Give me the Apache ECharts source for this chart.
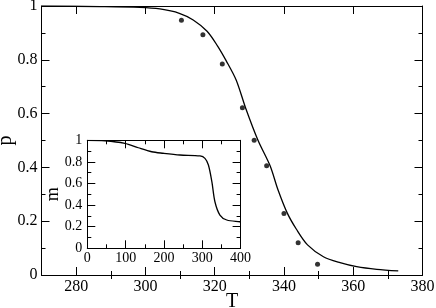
<!DOCTYPE html>
<html><head><meta charset="utf-8">
<script src="https://cdn.jsdelivr.net/npm/echarts@6/dist/echarts.min.js"></script>
<style>html,body{margin:0;padding:0;background:#fff}#c{width:436px;height:308px}</style>
</head><body><div id="c"></div>
<script>
// Main plot: fitted curve p(T)
const curveT = [270, 286.9, 298.4, 304.2, 309.8, 313.8, 317.8, 320.8, 323.3, 326.2, 328.9, 332.5, 336.0, 338.3, 341.0, 343.6, 346.8, 351.4, 356.2, 361.0, 366.8, 373.0];
const curveP = [1.0, 0.998, 0.995, 0.989, 0.973, 0.948, 0.906, 0.852, 0.797, 0.725, 0.622, 0.501, 0.406, 0.316, 0.229, 0.17, 0.112, 0.068, 0.046, 0.031, 0.021, 0.015];
// Main plot: measured points
const dotT = [310.4, 316.6, 322.2, 328.0, 331.4, 335.0, 340.0, 344.1, 349.7];
const dotP = [0.947, 0.893, 0.784, 0.622, 0.501, 0.406, 0.229, 0.12, 0.04];
// Inset: m(T)
const insetT = [0, 46, 98, 133, 168, 198, 242, 294, 307, 316, 325, 333, 346, 364, 398, 400];
const insetM = [1.0, 0.996, 0.972, 0.931, 0.894, 0.880, 0.864, 0.855, 0.833, 0.771, 0.617, 0.431, 0.308, 0.262, 0.246, 0.245];
// Tick values
const mainXMajor = [280, 300, 320, 340, 360, 380];
const mainXMinor = [290, 310, 330, 350, 370];

const FONT = 'Liberation Serif';
const pair = (a, b) => a.map((v, i) => [v, b[i]]);

function xAx(grid, pos, opts) {
  return Object.assign({
    type: 'value', gridIndex: grid, position: pos,
    axisLine: {show: true, onZero: false, lineStyle: {color: '#000', width: 1}},
    splitLine: {show: false},
    axisTick: {show: true, inside: true, length: 8, lineStyle: {color: '#000'}},
    axisLabel: {show: false}
  }, opts);
}

const xAxes = [
  xAx(0, 'bottom', {min: 270, max: 380, interval: 10,
    axisTick: {show: true, inside: true, length: 8, customValues: mainXMajor, lineStyle: {color: '#000'}},
    axisLabel: {show: true, customValues: mainXMajor, fontFamily: FONT, fontSize: 16, color: '#000', margin: 4},
    name: 'T', nameLocation: 'middle', nameGap: 17, nameMoveOverlap: false,
    nameTextStyle: {fontFamily: FONT, fontSize: 20, color: '#000'}}),
  xAx(0, 'bottom', {min: 270, max: 380, interval: 10, axisLine: {show: false},
    axisTick: {show: true, inside: true, length: 4, customValues: mainXMinor, lineStyle: {color: '#000'}}}),
  xAx(0, 'top', {min: 270, max: 380, interval: 10,
    axisTick: {show: true, inside: true, length: 8, customValues: mainXMajor, lineStyle: {color: '#000'}}}),
  xAx(0, 'top', {min: 270, max: 380, interval: 10, axisLine: {show: false},
    axisTick: {show: true, inside: true, length: 4, customValues: mainXMinor, lineStyle: {color: '#000'}}}),
  xAx(1, 'bottom', {min: 0, max: 400, interval: 100, z: 6,
    minorTick: {show: true, splitNumber: 2, length: 4, lineStyle: {color: '#000'}},
    axisLabel: {show: true, fontFamily: FONT, fontSize: 14, color: '#000', margin: 3}}),
  xAx(1, 'top', {min: 0, max: 400, interval: 100, z: 6,
    minorTick: {show: true, splitNumber: 2, length: 4, lineStyle: {color: '#000'}}})
];

function yAx(grid, pos, opts) {
  return Object.assign({
    type: 'value', gridIndex: grid, position: pos, min: 0, max: 1, interval: 0.2,
    axisLine: {show: true, onZero: false, lineStyle: {color: '#000', width: 1}},
    splitLine: {show: false},
    axisTick: {show: true, inside: true, length: 8, lineStyle: {color: '#000'}},
    minorTick: {show: true, splitNumber: 2, length: 4, lineStyle: {color: '#000'}},
    axisLabel: {show: false}
  }, opts);
}

const yAxes = [
  yAx(0, 'left', {axisLabel: {show: true, fontFamily: FONT, fontSize: 16, color: '#000', margin: 4},
    name: 'p', nameLocation: 'middle', nameGap: 26, nameRotate: 90, nameMoveOverlap: false,
    nameTextStyle: {fontFamily: FONT, fontSize: 20, color: '#000'}}),
  yAx(0, 'right', {}),
  yAx(1, 'left', {z: 6, axisLabel: {show: true, fontFamily: FONT, fontSize: 14, color: '#000', margin: 5},
    name: 'm', nameLocation: 'middle', nameGap: 25, nameRotate: 90, nameMoveOverlap: false,
    nameTextStyle: {fontFamily: FONT, fontSize: 18, color: '#000'}}),
  yAx(1, 'right', {z: 6})
];

const chart = echarts.init(document.getElementById('c'), null, {renderer: 'canvas'});
chart.setOption({
  animation: false,
  backgroundColor: '#fff',
  grid: [
    {left: 41.5, top: 6, width: 381, height: 269, containLabel: false, outerBoundsMode: 'none'},
    {left: 87.3, top: 140.3, width: 153.3, height: 108, show: true, backgroundColor: '#fff', borderWidth: 0, z: 5,
     containLabel: false, outerBoundsMode: 'none'}
  ],
  xAxis: xAxes,
  yAxis: yAxes,
  series: [
    {type: 'line', xAxisIndex: 0, yAxisIndex: 0, data: pair(curveT, curveP), showSymbol: false,
     smooth: 0.3, lineStyle: {color: '#000', width: 1.3}, z: 2},
    {type: 'scatter', xAxisIndex: 0, yAxisIndex: 0, data: pair(dotT, dotP), symbol: 'circle',
     symbolSize: 5, itemStyle: {color: '#000'}, z: 3},
    {type: 'line', xAxisIndex: 4, yAxisIndex: 2, data: pair(insetT, insetM), showSymbol: false,
     smooth: 0.3, lineStyle: {color: '#000', width: 1.3}, z: 7}
  ]
});
</script></body></html>
